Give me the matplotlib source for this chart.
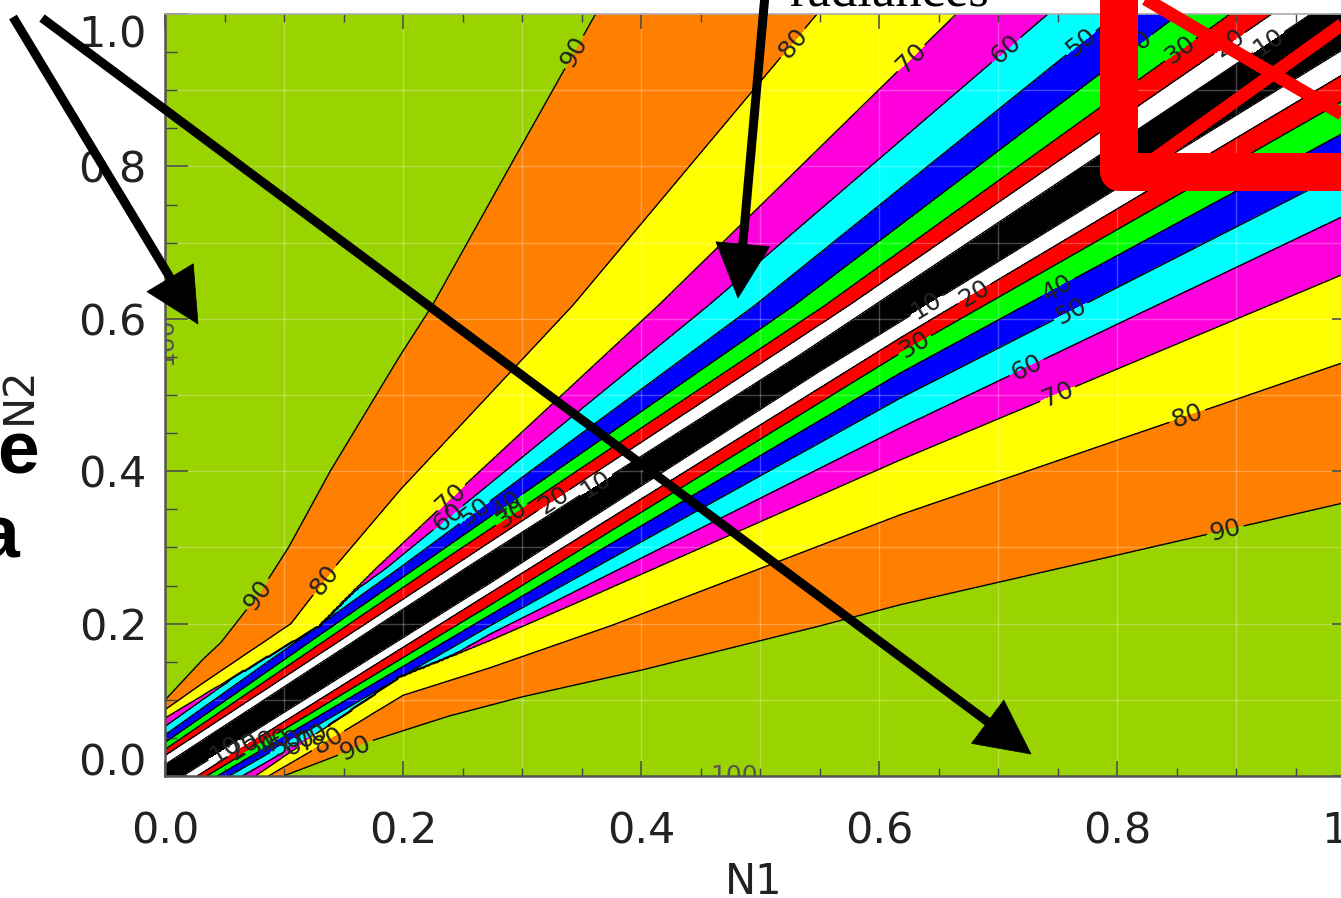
import numpy as np
import matplotlib
matplotlib.use("Agg")
import matplotlib.pyplot as plt
from matplotlib.lines import Line2D
from matplotlib.patches import Polygon

W, H, DPI = 1341, 898, 100

# ---------------- data ----------------
levels = [0, 10, 20, 30, 40, 50, 60, 70, 80, 90, 100]
band_colors = ["#000000", "#ffffff", "#ff0000", "#00ff00", "#0000ff",
               "#00ffff", "#ff00dc", "#ffff00", "#ff8000", "#99d400"]

# contour vertices (N1, N2) below the diagonal; the field is symmetric in N1 <-> N2
c10 = [(0.015, 0.0), (0.273, 0.253), (0.55, 0.531), (1.0, 0.963)]
c20 = [(0.027, 0.0), (0.273, 0.240), (0.618, 0.575), (1.0, 0.930)]
c30 = [(0.035, 0.0), (0.273, 0.224), (0.618, 0.555), (1.0, 0.895)]
c40 = [(0.044, 0.0), (0.273, 0.211), (0.618, 0.529), (1.0, 0.852)]
c50 = [(0.054, 0.0), (0.273, 0.197), (0.618, 0.496), (1.0, 0.800)]
c60 = [(0.065, 0.0), (0.273, 0.186), (0.618, 0.457), (1.0, 0.742)]
c70 = [(0.076, 0.0), (0.197, 0.130), (0.273, 0.178), (0.351, 0.231),
       (0.618, 0.415), (1.0, 0.665)]
c80 = [(0.087, 0.0), (0.12, 0.030), (0.20, 0.106), (0.273, 0.142),
       (0.376, 0.198), (0.618, 0.343), (1.0, 0.548)]
c90 = [(0.099, 0.0), (0.153, 0.032), (0.175, 0.047), (0.239, 0.079),
       (0.30, 0.104), (0.40, 0.139), (0.55, 0.197), (0.618, 0.225),
       (0.80, 0.290), (1.0, 0.362)]
contours = [c10, c20, c30, c40, c50, c60, c70, c80, c90]

# contour label placements: (level, N1) on lower branch, (level, N2) on upper branch
labels_lower = [(90, 0.891), (80, 0.859), (70, 0.750), (60, 0.724), (50, 0.761),
                (40, 0.750), (30, 0.630), (20, 0.680), (10, 0.640),
                (10, 0.050), (20, 0.066), (30, 0.080), (40, 0.092), (50, 0.102),
                (60, 0.113), (70, 0.124), (80, 0.137), (90, 0.160)]
labels_upper = [(90, 0.950), (80, 0.962), (70, 0.942), (60, 0.953), (50, 0.962),
                (40, 0.959), (30, 0.953), (20, 0.962), (10, 0.963),
                (70, 0.365), (60, 0.339), (50, 0.346), (40, 0.356), (30, 0.343),
                (20, 0.362), (10, 0.382), (90, 0.238), (80, 0.257)]

ticks_major = [0.0, 0.2, 0.4, 0.6, 0.8, 1.0]
tick_labels = ["0.0", "0.2", "0.4", "0.6", "0.8", "1.0"]

# ---------------- build the gridded field ----------------
g = np.linspace(0.0, 1.0, 701)
intercepts = [c[0][0] for c in contours]
axis_x = [0.0] + intercepts + [intercepts[-1] + 0.1]
axis_z = [0.0] + levels[1:10] + [99.0]
Zlow = np.empty((g.size, g.size))
for j, n1 in enumerate(g):
    ky = [0.0]
    kz = [float(np.interp(n1, axis_x, axis_z))]
    for L, c in zip(levels[9:0:-1], contours[::-1]):
        xs, ys = zip(*c)
        if n1 > xs[0]:
            ky.append(max(float(np.interp(n1, xs, ys)), ky[-1] + 1e-6))
            kz.append(L)
    ky.append(max(n1, ky[-1] + 1e-6))
    kz.append(0.0)
    Zlow[:, j] = np.interp(g, ky, kz)
I, J = np.indices(Zlow.shape)
Z = np.where(I <= J, Zlow, Zlow.T)


def lower_pt(L, n1):
    xs, ys = zip(*contours[L // 10 - 1])
    return (n1, float(np.interp(n1, xs, ys)))


def upper_pt(L, n2):
    a, b = lower_pt(L, n2)
    return (b, a)


# ---------------- figure ----------------
plt.rcParams["font.family"] = ["DejaVu Sans"]
fig = plt.figure(figsize=(W / DPI, H / DPI), dpi=DPI)
fig.patch.set_facecolor("white")
ax = fig.add_axes([165 / W, (H - 776) / H, 1190 / W, 762 / H])
ax.set_xlim(0, 1)
ax.set_ylim(0, 1)

ax.contourf(g, g, Z, levels=levels, colors=band_colors, zorder=1)
cs = ax.contour(g, g, Z, levels=levels[1:10], colors="black", linewidths=1.0, zorder=2)

for v in np.arange(0.1, 1.0, 0.1):
    ax.axvline(v, color="white", alpha=0.28, lw=1.0, zorder=1.5)
    ax.axhline(v, color="white", alpha=0.28, lw=1.0, zorder=1.5)

positions = [lower_pt(L, v) for L, v in labels_lower] + [upper_pt(L, v) for L, v in labels_upper]
ax.clabel(cs, manual=positions, inline=True, inline_spacing=3, fmt="%d",
          fontsize=18, colors="#222222")

ax.text(0.478, 0.0, "100", ha="center", va="center", fontsize=18, color="#555555",
        clip_on=True, zorder=3)
ax.text(0.0, 0.57, "100", ha="center", va="center", rotation=90, fontsize=18,
        color="#555555", clip_on=True, zorder=3)

# axes styling
ax.set_xticks(ticks_major)
ax.set_xticklabels(tick_labels)
ax.set_yticks(ticks_major)
ax.set_yticklabels(tick_labels)
ax.set_xticks(np.arange(0, 1.001, 0.05), minor=True)
ax.set_yticks(np.arange(0, 1.001, 0.05), minor=True)
ax.tick_params(axis="x", which="major", direction="in", length=11, width=1.1,
               color="#444444", labelsize=31, pad=25, top=True)
ax.tick_params(axis="x", which="minor", direction="in", length=5.5, width=1.0,
               color="#444444", top=True)
ax.tick_params(axis="y", which="major", direction="in", length=16.5, width=1.1,
               color="#444444", labelsize=31, pad=13, right=True)
ax.tick_params(axis="y", which="minor", direction="in", length=8.5, width=1.0,
               color="#444444", right=True)
for s in ["left", "bottom"]:
    ax.spines[s].set_color("#555555")
    ax.spines[s].set_linewidth(1.8)
ax.spines["top"].set_color("#aaaaaa")
ax.spines["top"].set_linewidth(1.2)
ax.spines["right"].set_color("#555555")
yt = ax.yaxis.get_major_ticks()
yt[0].label1.set_verticalalignment("baseline")
yt[-1].label1.set_verticalalignment("top")
for t in ax.get_xticklabels() + ax.get_yticklabels():
    t.set_color("#222222")

ax.set_xlabel("N1", fontsize=30, color="#222222")
ax.xaxis.set_label_coords((754 - 165) / 1190, -(894 - 776) / 762)
ax.xaxis.label.set_verticalalignment("baseline")
ax.set_ylabel("N2", fontsize=30, color="#222222")
ax.yaxis.set_label_coords((19 - 165) / 1190, 0.5)
ax.yaxis.label.set_verticalalignment("center")
ax.yaxis.label.set_horizontalalignment("center")


# ---------------- overlay annotations (figure pixels) ----------------
def fp(x, y):
    return (x / W, 1 - y / H)


def arrow(start, tip, head_len=54, half_w=27, lw_px=9):
    sx, sy = start
    tx, ty = tip
    d = np.hypot(tx - sx, ty - sy)
    ux, uy = (tx - sx) / d, (ty - sy) / d
    bx, by = tx - head_len * ux, ty - head_len * uy
    nx, ny = -uy, ux
    p0, p1 = fp(sx, sy), fp(bx + ux * 4, by + uy * 4)
    fig.add_artist(Line2D([p0[0], p1[0]], [p0[1], p1[1]], transform=fig.transFigure,
                          color="black", lw=lw_px * 0.72, solid_capstyle="butt", zorder=5))
    tri = [fp(tx, ty), fp(bx + half_w * nx, by + half_w * ny), fp(bx - half_w * nx, by - half_w * ny)]
    fig.add_artist(Polygon(tri, closed=True, transform=fig.transFigure, facecolor="black",
                           edgecolor="black", lw=0.5, zorder=5))


arrow((13, 17), (198, 324))
arrow((42, 18), (1031, 754))
arrow((765, -5), (738, 298))

# red frame and cross (top-right)
fx, fy = zip(*[fp(1119, -60), fp(1119, 172), fp(1420, 172)])
fig.add_artist(Line2D(fx, fy, transform=fig.transFigure, color="#ff0000", lw=38 * 0.72,
                      solid_joinstyle="round", solid_capstyle="butt", zorder=6))
for (x0, y0), (x1, y1) in [((1130, -10), (1400, 148)), ((1150, 162), (1400, -17))]:
    a, b = fp(x0, y0), fp(x1, y1)
    fig.add_artist(Line2D([a[0], b[0]], [a[1], b[1]], transform=fig.transFigure,
                          color="#ff0000", lw=13 * 0.72, solid_capstyle="butt", zorder=6))

fig.text(790 / W, 1 - 5 / H, "radiances", ha="left", va="baseline", fontsize=38,
         family="Liberation Serif", color="black")
fig.text(39 / W, 1 - 474 / H, "e", ha="right", va="baseline", fontsize=54,
         fontweight="bold", family="Liberation Sans", color="black")
fig.text(20 / W, 1 - 557 / H, "a", ha="right", va="baseline", fontsize=54,
         fontweight="bold", family="Liberation Sans", color="black")

fig.savefig("out.png", dpi=DPI)
